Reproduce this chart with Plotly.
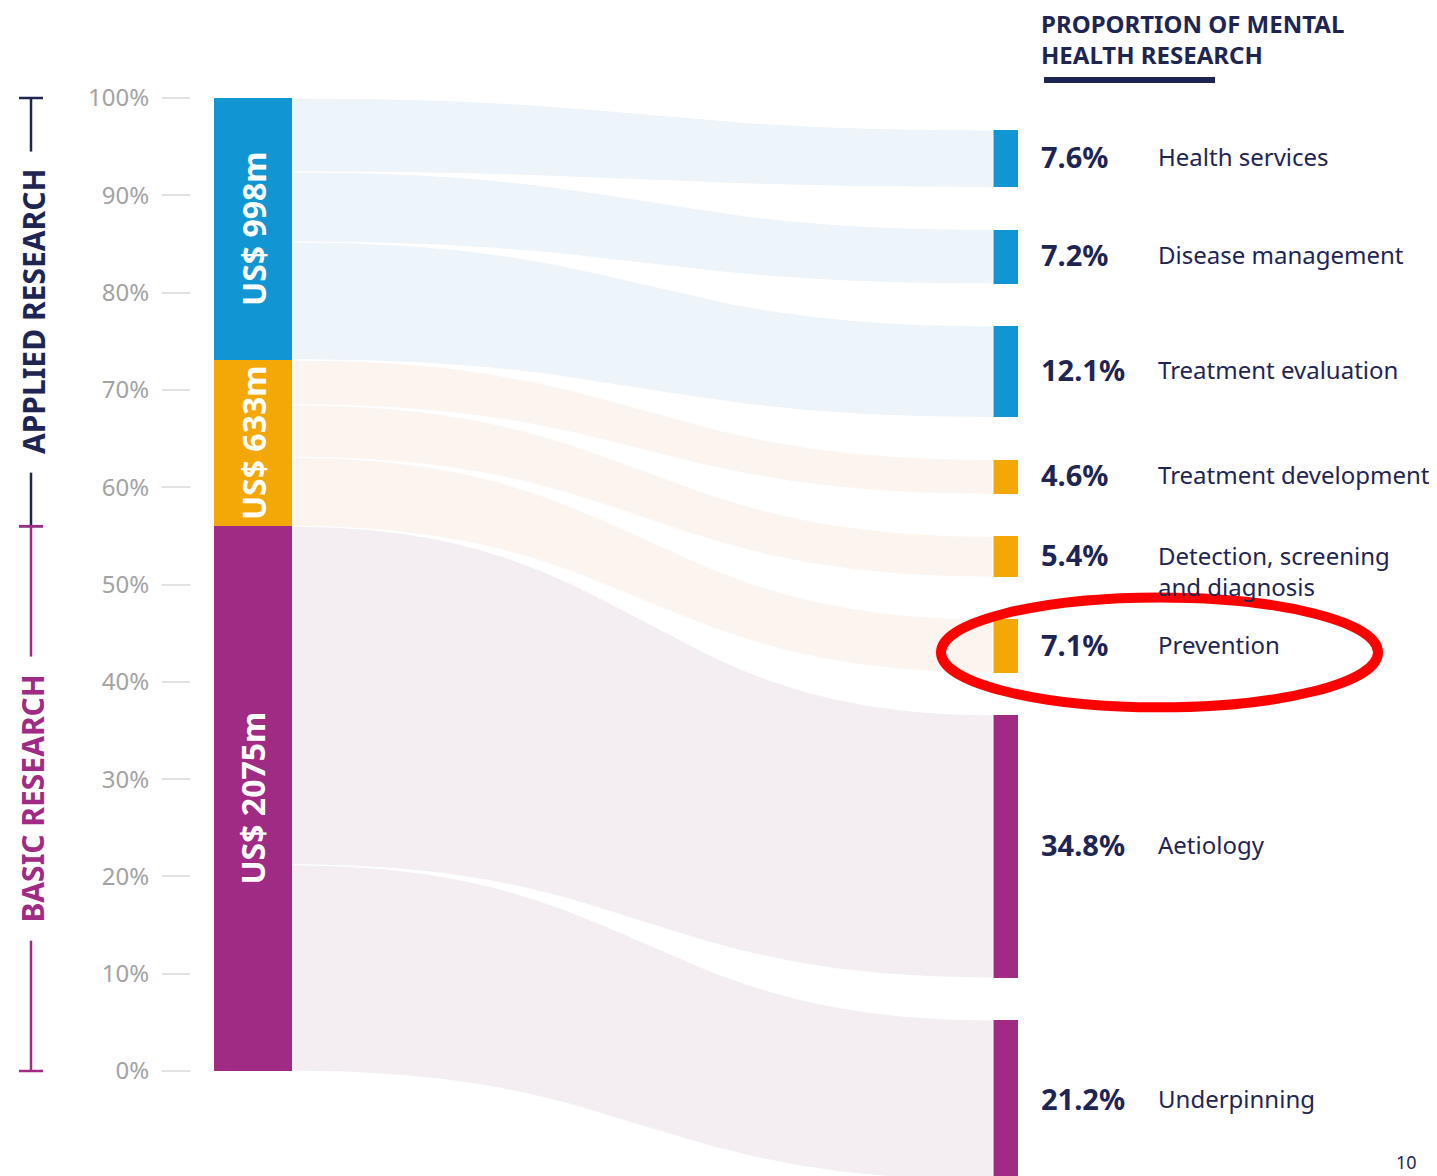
import numpy as np
import plotly.graph_objects as go

# ---------------- data ----------------
source_labels = ["US$ 998m", "US$ 633m", "US$ 2075m"]
source_funding = [998, 633, 2075]
group_labels = ["APPLIED RESEARCH", "BASIC RESEARCH"]

target_labels = ["Health services", "Disease management", "Treatment evaluation",
                 "Treatment development", "Detection, screening<br>and diagnosis",
                 "Prevention", "Aetiology", "Underpinning"]
target_pct = [7.6, 7.2, 12.1, 4.6, 5.4, 7.1, 34.8, 21.2]
target_source = [0, 0, 0, 1, 1, 1, 2, 2]

tick_vals = [0, 10, 20, 30, 40, 50, 60, 70, 80, 90, 100]
tick_text = ["0%", "10%", "20%", "30%", "40%", "50%", "60%", "70%", "80%", "90%", "100%"]

header_lines = ["PROPORTION OF MENTAL", "HEALTH RESEARCH"]
page_number = "10"

# ---------------- style ----------------
NODE_COLORS = ["#1196D3", "#F3A807", "#A02B84"]
LINK_COLORS = ["#EDF4FA", "#FCF5EF", "#F4EEF3"]
NAVY = "#1F2553"
PURPLE = "#A02B84"
FONT = "Noto Sans"

PAGE_W, PAGE_H = 1437, 1176
OFF = 8                      # default body margin of the page
W, H = PAGE_W - OFF, PAGE_H - OFF
PXU = 9.73                   # pixels per axis unit (percent)
Y0_PAGE = 1071               # page row of 0 %
Y_TOP = (Y0_PAGE - OFF) / PXU
Y_BOT = -(PAGE_H - Y0_PAGE) / PXU


def py(p):
    """page pixel row -> axis value (layout placement only)"""
    return (Y0_PAGE - p) / PXU


LEFT_X0, LEFT_X1 = 214, 292
RIGHT_X0, RIGHT_X1 = 993, 1018
RIGHT_SCALE = 0.7767    # axis units per percent on the right column
RIGHT_GAP = 4.324
RIGHT_TOP = py(130)

# left stacked bar (blue on top)
total = sum(source_funding)
shares = [f / total * 100 for f in source_funding]
src_top, src_bot = [], []
cur = 100.0
for s in shares:
    src_top.append(cur)
    src_bot.append(cur - s)
    cur -= s

# right nodes
tgt_top, tgt_bot = [], []
cur = RIGHT_TOP
for v in target_pct:
    tgt_top.append(cur)
    tgt_bot.append(cur - v * RIGHT_SCALE)
    cur = cur - v * RIGHT_SCALE - RIGHT_GAP

# link source positions
link_s_top, link_s_bot = [], []
offs = list(src_top)
for v, s in zip(target_pct, target_source):
    link_s_top.append(offs[s])
    link_s_bot.append(offs[s] - v)
    offs[s] -= v

fig = go.Figure()

# ---------------- links ----------------
t = np.linspace(0, 1, 140)
xm = (LEFT_X1 + RIGHT_X0) / 2
bx = (1 - t) ** 3 * LEFT_X1 + 3 * (1 - t) ** 2 * t * xm + 3 * (1 - t) * t ** 2 * xm + t ** 3 * RIGHT_X0
wy0 = (1 - t) ** 3 + 3 * (1 - t) ** 2 * t
wy1 = 3 * (1 - t) * t ** 2 + t ** 3
for i in range(len(target_pct)):
    top = wy0 * link_s_top[i] + wy1 * tgt_top[i]
    bot = wy0 * link_s_bot[i] + wy1 * tgt_bot[i]
    xs = np.concatenate([bx, bx[::-1]])
    ys = np.concatenate([top, bot[::-1]])
    fig.add_trace(go.Scatter(x=xs, y=ys, mode="lines", fill="toself",
                             fillcolor=LINK_COLORS[target_source[i]],
                             line=dict(color="white", width=1),
                             hoverinfo="skip", showlegend=False))

# ---------------- nodes ----------------
fig.add_trace(go.Bar(x=[(LEFT_X0 + LEFT_X1) / 2] * 3, y=shares, base=src_bot,
                     width=LEFT_X1 - LEFT_X0, marker=dict(color=NODE_COLORS, line=dict(width=0)),
                     showlegend=False, hoverinfo="skip"))
fig.add_trace(go.Bar(x=[(RIGHT_X0 + RIGHT_X1) / 2] * len(target_pct),
                     y=[v * RIGHT_SCALE for v in target_pct], base=tgt_bot,
                     width=RIGHT_X1 - RIGHT_X0,
                     marker=dict(color=[NODE_COLORS[s] for s in target_source], line=dict(width=0)),
                     showlegend=False, hoverinfo="skip"))

annotations = []
shapes = []

# bar labels
for i, lab in enumerate(source_labels):
    annotations.append(dict(x=(LEFT_X0 + LEFT_X1) / 2, y=(src_top[i] + src_bot[i]) / 2,
                            text=f"<b>{lab}</b>", textangle=-90, showarrow=False,
                            font=dict(family=FONT, size=32, color="white"),
                            xanchor="center", yanchor="middle"))

# right labels
for i, lab in enumerate(target_labels):
    yc = (tgt_top[i] + tgt_bot[i]) / 2
    annotations.append(dict(x=1039, y=yc, text=f"<b>{target_pct[i]}%</b>", showarrow=False,
                            xanchor="left", yanchor="middle", yshift=2,
                            font=dict(family=FONT, size=29, color=NAVY)))
    if "<br>" in lab:
        annotations.append(dict(x=1156, y=yc, text=lab, showarrow=False, align="left",
                                xanchor="left", yanchor="top", yshift=20,
                                font=dict(family=FONT, size=24, color=NAVY)))
    else:
        annotations.append(dict(x=1156, y=yc, text=lab, showarrow=False,
                                xanchor="left", yanchor="middle", yshift=2,
                                font=dict(family=FONT, size=24, color=NAVY)))

# header (two lines)
for line_txt, row in zip(header_lines, (23, 54)):
    annotations.append(dict(x=1039, y=py(row), text=f"<b>{line_txt}</b>", showarrow=False,
                            xanchor="left", yanchor="middle", align="left",
                            font=dict(family=FONT, size=24, color=NAVY)))
shapes.append(dict(type="line", x0=1044, x1=1215, y0=py(80), y1=py(80),
                   line=dict(color=NAVY, width=6)))

# group brackets
boundary = src_bot[1]
groups = [(100.0, boundary, NAVY, 16.5), (boundary, 0.0, PURPLE, 14.6)]
BX = 31
for (g_top, g_bot, col, half), lab in zip(groups, group_labels):
    mid = (g_top + g_bot) / 2
    annotations.append(dict(x=BX + 2, y=mid, text=f"<b>{lab}</b>", textangle=-90, showarrow=False,
                            xanchor="center", yanchor="middle",
                            font=dict(family=FONT, size=30, color=col)))
    shapes.append(dict(type="line", x0=BX, x1=BX, y0=g_top, y1=mid + half, line=dict(color=col, width=2.5)))
    shapes.append(dict(type="line", x0=BX, x1=BX, y0=mid - half, y1=g_bot, line=dict(color=col, width=2.5)))
    for yy in (g_top, g_bot):
        shapes.append(dict(type="line", x0=19, x1=43, y0=yy, y1=yy, line=dict(color=col, width=2.5)))

# highlight ellipse around Prevention
prev_idx = target_labels.index("Prevention")
prev_c = (tgt_top[prev_idx] + tgt_bot[prev_idx]) / 2
shapes.append(dict(type="circle", x0=941, x1=1378, y0=prev_c + 5.0, y1=prev_c - 6.3,
                   line=dict(color="#FF0000", width=10)))

# page number
annotations.append(dict(x=1406, y=py(1162), text=page_number, showarrow=False,
                        xanchor="center", yanchor="middle",
                        font=dict(family=FONT, size=18, color=NAVY)))

fig.update_layout(
    width=W, height=H, margin=dict(l=0, r=0, t=0, b=0),
    paper_bgcolor="white", plot_bgcolor="white",
    barmode="overlay", bargap=0,
    showlegend=False,
    xaxis=dict(range=[OFF, PAGE_W], visible=False, fixedrange=True),
    yaxis=dict(range=[Y_BOT, Y_TOP], anchor="free", position=(190 - OFF) / W, side="left",
               tickvals=tick_vals, ticktext=tick_text, ticks="outside", ticklen=28,
               tickwidth=2, tickcolor="#E2E2E2", showgrid=False, zeroline=False,
               showline=False, ticklabelstandoff=8,
               tickfont=dict(family=FONT, size=24, color="#A3A3A3")),
    annotations=annotations, shapes=shapes,
)

fig.write_html("out.html")
